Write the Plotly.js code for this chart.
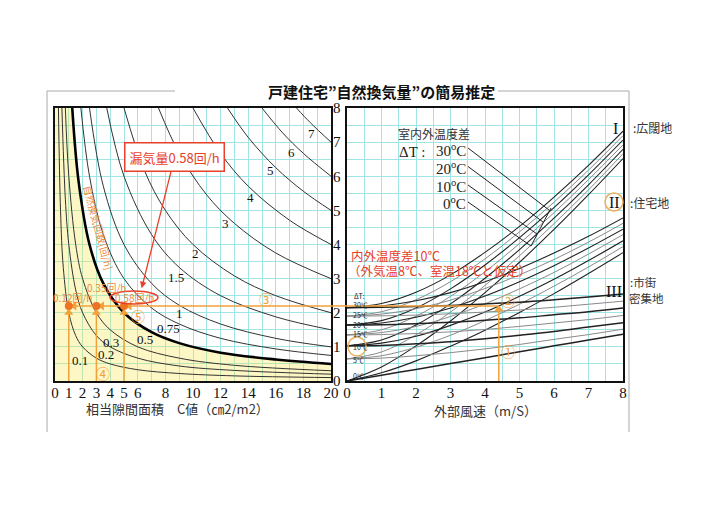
<!DOCTYPE html>
<html><head><meta charset="utf-8">
<script src="https://cdn.plot.ly/plotly-3.0.1.min.js"></script>
<style>html,body{margin:0;padding:0;background:#fff}#c{width:720px;height:507px}</style>
</head><body><div id="c"></div>
<script>
// ---------- data: left panel (C value vs leakage factor), curves of constant air-change rate ----------
const leftTickVals = [0,1,2,3,4,5,6,7,8,9,10,11,12,13,14,15,16,17,18,19,20];
const leftTickText = ['0','1','2','3','4','5','6','','8','','10','','12','','14','','16','','18','','20'];
const midTickVals = [0,1,2,3,4,5,6,7,8];
const rateLabels = ['0.1','0.2','0.3','0.5','0.75','1','1.5','2','3','4','5','6','7'];
const n01C = [0.25,0.4,0.6,1,1.5,2,3,4,6,9,13,20];
const n01Y = [8,5,3.33,2,1.33,1,0.67,0.5,0.33,0.22,0.15,0.1];
const n02C = [0.5,0.75,1,1.5,2,3,4,6,9,13,20];
const n02Y = [8,5.33,4,2.67,2,1.33,1,0.67,0.44,0.31,0.2];
const n03C = [0.75,1,1.5,2,3,4,6,9,13,20];
const n03Y = [8,6,4,3,2,1.5,1,0.67,0.46,0.3];
const n05C = [1.25,1.7,2.5,3.5,5,7,9,12,16,20];
const n05Y = [8,5.88,4,2.86,2,1.43,1.11,0.83,0.63,0.5];
const n075C = [1.875,2.5,3.5,5,7,9,12,16,20];
const n075Y = [8,6,4.29,3,2.14,1.67,1.25,0.94,0.75];
const n1C = [2.5,3.5,5,7,9,12,16,20];
const n1Y = [8,5.71,4,2.86,2.22,1.67,1.25,1];
const n15C = [3.75,5,7,9,12,16,20];
const n15Y = [8,6,4.29,3.33,2.5,1.88,1.5];
const n2C = [5,6.5,8,10,13,16,20];
const n2Y = [8,6.15,5,4,3.08,2.5,2];
const n3C = [7.5,9,11,13,16,20];
const n3Y = [8,6.67,5.45,4.62,3.75,3];
const n4C = [10,12,14,17,20];
const n4Y = [8,6.67,5.71,4.71,4];
const n5C = [12.5,14,16,18,20];
const n5Y = [8,7.14,6.25,5.56,5];
const n6C = [15,16.5,18,20];
const n6Y = [8,7.27,6.67,6];
const n7C = [17.5,18.5,20];
const n7Y = [8,7.57,7];

// ---------- data: right panel (wind speed vs leakage factor), per terrain and temperature difference ----------
const windSpeed = [0,1,2,3,4,5,6,7,8];
const dTLabels = ['0','5','10','15','20','25','30'];
const I_0  = [0,0.41,1.03,1.76,2.59,3.48,4.44,5.46,6.52];
const I_5  = [0.65,0.85,1.35,2.02,2.80,3.67,4.61,5.60,6.66];
const I_10 = [1.03,1.20,1.64,2.26,3.01,3.85,4.77,5.75,6.79];
const I_15 = [1.35,1.50,1.90,2.48,3.20,4.03,4.93,5.90,6.92];
const I_20 = [1.64,1.77,2.14,2.70,3.40,4.20,5.08,6.04,7.06];
const I_25 = [1.90,2.03,2.38,2.91,3.58,4.37,5.24,6.18,7.19];
const I_30 = [2.15,2.27,2.60,3.11,3.77,4.53,5.39,6.32,7.32];
const II_0  = [0,0.24,0.59,1.02,1.49,2.01,2.56,3.15,3.76];
const II_5  = [0.65,0.74,0.99,1.34,1.77,2.25,2.78,3.34,3.94];
const II_10 = [1.03,1.11,1.31,1.63,2.02,2.48,2.98,3.53,4.11];
const II_15 = [1.35,1.42,1.60,1.89,2.26,2.70,3.18,3.72,4.29];
const II_20 = [1.64,1.70,1.87,2.14,2.49,2.91,3.38,3.90,4.45];
const II_25 = [1.90,1.96,2.12,2.37,2.71,3.11,3.56,4.07,4.62];
const II_30 = [2.15,2.20,2.35,2.59,2.91,3.30,3.75,4.24,4.78];
const III_0  = [0,0.17,0.34,0.51,0.68,0.86,1.03,1.20,1.37];
const III_5  = [0.65,0.67,0.74,0.83,0.94,1.07,1.22,1.36,1.52];
const III_10 = [1.03,1.04,1.09,1.15,1.24,1.34,1.45,1.58,1.71];
const III_15 = [1.35,1.36,1.39,1.44,1.51,1.60,1.70,1.80,1.92];
const III_20 = [1.64,1.65,1.68,1.72,1.78,1.85,1.94,2.03,2.14];
const III_25 = [1.90,1.91,1.93,1.97,2.02,2.08,2.16,2.25,2.34];
const III_30 = [2.15,2.16,2.18,2.21,2.26,2.31,2.38,2.46,2.55];

// worked example
const exampleLeak = 2.2;
const exampleC = [1,3,5];
const exampleRates = ['0.12回/h','0.35回/h','0.58回/h'];
const exampleWind = 4.4;

// ---------- styles ----------
const W=720,H=507;
const PX=x=>x/W, PY=y=>1-y/H;
const GRID='#a0e4e4';
const ORANGE='#f2a23a', DOT='#ee7222', RED='#e8402a';
const SERIF='Liberation Serif, DejaVu Serif, serif';
const JP='Noto Sans CJK JP, sans-serif';

const traces=[];
traces.push({x:[0,n05C[0]],y:[8,8],xaxis:'x',yaxis:'y',mode:'lines',line:{width:0},fill:'tozeroy',fillcolor:'rgba(250,232,80,0.33)',hoverinfo:'skip'});
traces.push({x:n05C,y:n05Y,xaxis:'x',yaxis:'y',mode:'lines',line:{width:0,shape:'spline'},fill:'tozeroy',fillcolor:'rgba(250,232,80,0.33)',hoverinfo:'skip'});
const leftCurves=[[n01C,n01Y],[n02C,n02Y],[n03C,n03Y],[n05C,n05Y],[n075C,n075Y],[n1C,n1Y],[n15C,n15Y],[n2C,n2Y],[n3C,n3Y],[n4C,n4Y],[n5C,n5Y],[n6C,n6Y],[n7C,n7Y]];
leftCurves.forEach((c,i)=>{
  const thick = rateLabels[i]==='0.5';
  traces.push({x:c[0],y:c[1],xaxis:'x',yaxis:'y',mode:'lines',name:rateLabels[i],
    line:{color:thick?'#000':'#333',width:thick?2.6:1,shape:'spline',smoothing:1}});
});
const fam=[[I_0,I_5,I_10,I_15,I_20,I_25,I_30],[II_0,II_5,II_10,II_15,II_20,II_25,II_30],[III_0,III_5,III_10,III_15,III_20,III_25,III_30]];
fam.forEach((f,fi)=>f.forEach((ys,k)=>{
  const dark = k%2===0;
  traces.push({x:windSpeed,y:ys,xaxis:'x2',yaxis:'y2',mode:'lines',
    line:{color:dark?'#222':'#8a8a8a',width:dark?(fi===2?1.5:1.1):1,shape:'spline',smoothing:1}});
}));
traces.push({x:[exampleC[0],20],y:[exampleLeak,exampleLeak],xaxis:'x',yaxis:'y',mode:'lines',line:{color:ORANGE,width:1.5}});
traces.push({x:[0,exampleWind],y:[exampleLeak,exampleLeak],xaxis:'x2',yaxis:'y2',mode:'lines',line:{color:ORANGE,width:1.5}});
traces.push({x:[exampleWind,exampleWind],y:[0,exampleLeak],xaxis:'x2',yaxis:'y2',mode:'lines',line:{color:ORANGE,width:1.5}});
traces.push({x:[exampleWind],y:[exampleLeak-0.1],xaxis:'x2',yaxis:'y2',mode:'markers',marker:{symbol:'triangle-up',size:8,color:ORANGE}});
exampleC.forEach(c=>{
  traces.push({x:[c,c],y:[0,exampleLeak],xaxis:'x',yaxis:'y',mode:'lines',line:{color:ORANGE,width:1.5}});
});
traces.push({x:exampleC,y:exampleC.map(()=>exampleLeak-0.2),xaxis:'x',yaxis:'y',mode:'markers',marker:{symbol:'triangle-up',size:8,color:ORANGE}});
traces.push({x:exampleC.map(c=>c+0.4),y:exampleC.map(()=>exampleLeak),xaxis:'x',yaxis:'y',mode:'markers',marker:{symbol:'triangle-left',size:8,color:ORANGE}});
traces.push({x:exampleC,y:exampleC.map(()=>exampleLeak),xaxis:'x',yaxis:'y',mode:'markers',marker:{symbol:'circle',size:8,color:DOT}});

const ann=[];
function T(text,x,y,o){ann.push(Object.assign({text:text,x:PX(x),y:PY(y),xref:'paper',yref:'paper',showarrow:false,xanchor:'center',yanchor:'middle',font:{family:JP,size:12,color:'#222'}},o||{}));}
T('<b>戸建住宅”自然換気量”の簡易推定</b>',381,91,{font:{family:JP,size:15,color:'#111'}});
T('相当隙間面積　C値（㎝2/m2）',177,408,{font:{family:JP,size:13,color:'#333'}});
T('外部風速（m/S）',485,410,{font:{family:JP,size:13,color:'#333'}});
const leftLabelPos=[[80,360],[106,354],[111,342],[145,339],[168,328],[179,313],[176,277],[195,253],[225,223],[250,197],[270,171],[291,152],[311,133]];
rateLabels.forEach((t,i)=>T(t,leftLabelPos[i][0],leftLabelPos[i][1],{font:{family:SERIF,size:13,color:'#111'}}));
T('自然換気回数[回/h]',99,227,{textangle:75,font:{family:JP,size:10,color:'#f08a3a'}});
T(exampleRates[0],72,297,{font:{family:JP,size:10,color:'#f08a3a'}});
T(exampleRates[1],106,287,{font:{family:JP,size:10,color:'#f08a3a'}});
T(exampleRates[2],134,297.5,{font:{family:JP,size:10,color:'#f08a3a'}});
T('③',266,299,{font:{family:JP,size:14,color:ORANGE}});
T('④',103,373,{font:{family:JP,size:14,color:ORANGE}});
T('⑤',138,316,{font:{family:JP,size:14,color:ORANGE}});
T('②',508,300,{font:{family:JP,size:14,color:ORANGE}});
T('①',508,351,{font:{family:JP,size:14,color:ORANGE}});
ann.push({x:6.28,y:2.72,xref:'x',yref:'y',ax:33,ay:-131,text:'漏気量0.58回/h',showarrow:true,arrowcolor:RED,arrowhead:2,arrowsize:1,arrowwidth:1.3,
  bordercolor:RED,borderwidth:1.5,borderpad:4,bgcolor:'#fff',font:{family:JP,size:13,color:RED}});
T('室内外温度差',434,133,{font:{family:JP,size:12,color:'#333'}});
T('ΔT :',412,152,{font:{family:SERIF,size:15,color:'#222'}});
['30','20','10','0'].forEach((t,i)=>T(t+'<sup>o</sup>C',468,[150,168,186,203][i],{xanchor:'right',font:{family:SERIF,size:15,color:'#222'}}));
T('内外温度差10℃',349,255.5,{xanchor:'left',font:{family:JP,size:12.5,color:RED}});
T('（外気温8℃、室温18℃と仮定）',346,270,{xanchor:'left',font:{family:JP,size:12.5,color:RED}});
T('ΔT:',352,296,{xanchor:'left',font:{family:JP,size:7,color:'#222'}});
dTLabels.slice().reverse().forEach((t,i)=>T(t+'℃',351,[305,315,324.5,334,346.7,359.5,376][i],{xanchor:'left',font:{family:JP,size:7,color:'#222'}}));
T('I',615,129,{font:{family:SERIF,size:16,color:'#111'}});
T('II',614,202,{font:{family:SERIF,size:16,color:'#111'}});
T('III',614,291,{font:{family:SERIF,size:16,color:'#111'}});
T(':広闊地',631,128,{xanchor:'left',font:{family:JP,size:12,color:'#333'}});
T(':住宅地',628,202,{xanchor:'left',font:{family:JP,size:12,color:'#333'}});
T(':市街',628,282,{xanchor:'left',font:{family:JP,size:11.5,color:'#333'}});
T('密集地',627,298,{xanchor:'left',font:{family:JP,size:11.5,color:'#333'}});

const shapes=[];
function L(x0,y0,x1,y1,c,w){shapes.push({type:'line',xref:'paper',yref:'paper',x0:PX(x0),y0:PY(y0),x1:PX(x1),y1:PY(y1),line:{color:c,width:w}});}
function O(x0,y0,x1,y1,c,w){shapes.push({type:'circle',xref:'paper',yref:'paper',x0:PX(x0),y0:PY(y0),x1:PX(x1),y1:PY(y1),line:{color:c,width:w}});}
L(47,91,175,91,'#aaa',1); L(498,91,629,91,'#aaa',1);
L(47,91,47,432,'#aaa',1); L(629,91,629,432,'#aaa',1);
shapes.push({type:'line',xref:'paper',yref:'y',x0:PX(331),x1:PX(347),y0:exampleLeak,y1:exampleLeak,line:{color:ORANGE,width:1.5}});
L(468,148,549,210,'#222',1); L(468,166.5,543,222,'#222',1); L(468,185,537,234,'#222',1); L(468,202,531,246,'#222',1);
L(531,246,551,208,'#222',1);
O(110,291,158,304,RED,1.5);
O(348,337,366,356,'#eab060',1.5);
O(605,193,623,211,'#eab060',1.5);

const axBase={showline:true,mirror:true,linecolor:'#111',linewidth:2,zeroline:false,ticks:'',showgrid:true,gridcolor:GRID,gridwidth:1,fixedrange:true,
  ticklabelstandoff:-3,tickfont:{family:SERIF,size:15,color:'#111'}};
const minorGrid={dtick:0.5,showgrid:true,gridcolor:GRID,gridwidth:1,ticks:''};
const layout={width:W,height:H,margin:{l:0,r:0,t:0,b:0},paper_bgcolor:'#fff',plot_bgcolor:'#fff',showlegend:false,
  xaxis:Object.assign({},axBase,{domain:[PX(55),PX(331)],range:[0,20],tickmode:'array',tickvals:leftTickVals,ticktext:leftTickText,anchor:'y'}),
  yaxis:Object.assign({},axBase,{domain:[PY(381),PY(108)],range:[0,8],tickmode:'array',tickvals:midTickVals,side:'right',anchor:'x',minor:minorGrid}),
  xaxis2:Object.assign({},axBase,{domain:[PX(347),PX(623)],range:[0,8],tickmode:'array',tickvals:midTickVals,anchor:'y2',minor:minorGrid}),
  yaxis2:Object.assign({},axBase,{domain:[PY(381),PY(108)],range:[0,8],tickmode:'array',tickvals:midTickVals,showticklabels:false,anchor:'x2',minor:minorGrid}),
  annotations:ann,shapes:shapes};
Plotly.newPlot('c',traces,layout,{staticPlot:true,displayModeBar:false});
</script></body></html>
